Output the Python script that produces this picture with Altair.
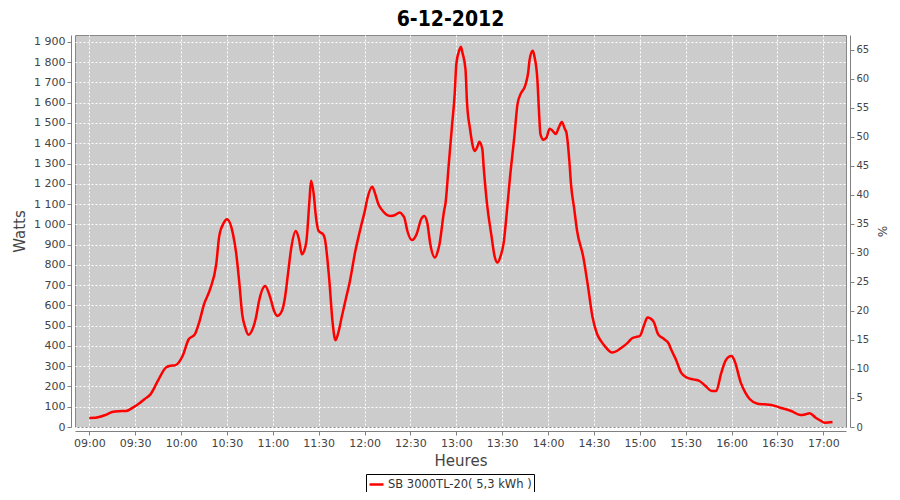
import altair as alt
import pandas as pd

# ---- data (time of day, power in W) ----
times = [
    "09:00", "09:04", "09:10", "09:15", "09:19", "09:24", "09:29", "09:33", "09:36", "09:40",
    "09:45", "09:50", "09:53", "09:56", "10:01", "10:05", "10:09", "10:12", "10:15", "10:19",
    "10:23", "10:25", "10:28", "10:30", "10:34", "10:36", "10:38", "10:40", "10:42", "10:44",
    "10:46", "10:49", "10:51", "10:55", "10:58", "11:01", "11:03", "11:06", "11:08", "11:10",
    "11:12", "11:15", "11:17", "11:19", "11:20", "11:22", "11:24", "11:25", "11:27", "11:28",
    "11:30", "11:33", "11:34", "11:37", "11:39", "11:41", "11:43", "11:45", "11:48", "11:50",
    "11:54", "11:58", "12:00", "12:02", "12:05", "12:07", "12:09", "12:11", "12:14", "12:17",
    "12:20", "12:23", "12:25", "12:26", "12:28", "12:31", "12:34", "12:37", "12:39", "12:41",
    "12:43", "12:46", "12:48", "12:49", "12:52", "12:53", "12:55", "12:57", "12:59", "13:00",
    "13:02", "13:03", "13:04", "13:06", "13:07", "13:09", "13:11", "13:12", "13:14", "13:15",
    "13:17", "13:18", "13:20", "13:23", "13:25", "13:27", "13:29", "13:31", "13:33", "13:35",
    "13:38", "13:40", "13:42", "13:45", "13:47", "13:48", "13:50", "13:51", "13:53", "13:54",
    "13:55", "13:57", "13:59", "14:01", "14:03", "14:05", "14:07", "14:09", "14:11", "14:12",
    "14:14", "14:15", "14:17", "14:19", "14:23", "14:26", "14:29", "14:32", "14:35", "14:37",
    "14:40", "14:42", "14:45", "14:48", "14:52", "14:55", "14:58", "15:00", "15:03", "15:05",
    "15:07", "15:09", "15:12", "15:16", "15:19", "15:20", "15:24", "15:27", "15:31", "15:35",
    "15:39", "15:43", "15:47", "15:50", "15:53", "15:56", "15:58", "16:00", "16:02", "16:06",
    "16:09", "16:12", "16:17", "16:21", "16:26", "16:32", "16:39", "16:45", "16:48", "16:51",
    "16:55", "16:58", "17:01", "17:06",
]
watts = [
    45, 46, 58, 74, 78, 79, 98, 118, 137, 161,
    230, 293, 302, 304, 350, 433, 457, 520, 605, 680,
    803, 943, 1008, 1025, 951, 860, 720, 556, 490, 455,
    470, 540, 622, 696, 647, 570, 548, 573, 640, 760,
    880, 967, 930, 852, 860, 918, 1120, 1215, 1132, 1050,
    967, 950, 930, 720, 523, 428, 470, 540, 640, 704,
    869, 1000, 1060, 1132, 1185, 1149, 1100, 1075, 1050, 1041,
    1046, 1058, 1045, 1033, 967, 922, 951, 1025, 1041, 1008,
    902, 836, 870, 902, 1066, 1107, 1290, 1470, 1650, 1790,
    1860, 1876, 1847, 1765, 1601, 1469, 1379, 1362, 1387, 1407,
    1371, 1272, 1107, 943, 844, 811, 844, 910, 1058, 1223,
    1436, 1592, 1642, 1683, 1749, 1815, 1856, 1831, 1716, 1568,
    1445, 1417, 1428, 1472, 1461, 1445, 1477, 1505, 1470, 1453,
    1305, 1198, 1082, 967, 840, 700, 545, 460, 420, 400,
    375, 367, 375, 391, 415, 438, 445, 449, 507, 540,
    535, 520, 457, 433, 410, 391, 326, 268, 243, 235,
    227, 202, 178, 178, 260, 326, 345, 350, 326, 219,
    170, 137, 115, 112, 109, 95, 79, 59, 62, 68,
    46, 32, 21, 25,
]
series_name = "SB 3000TL-20( 5,3 kWh )"
pct_ticks = [0, 5, 10, 15, 20, 25, 30, 35, 40, 45, 50, 55, 60, 65]
x_tick_labels = ["09:00", "09:30", "10:00", "10:30", "11:00", "11:30", "12:00", "12:30",
                 "13:00", "13:30", "14:00", "14:30", "15:00", "15:30", "16:00", "16:30", "17:00"]

DAY = "2012-12-06"
df = pd.DataFrame({
    "time": [f"{DAY}T{t}:00" for t in times],
    "watts": watts,
    "serie": series_name,
})
df_pct = pd.DataFrame({"pct": pct_ticks})


def dt(hm, sec=0):
    h, m = hm.split(":")
    return alt.DateTime(year=2012, month=12, date=6, hours=int(h), minutes=int(m), seconds=sec)


x_values = [dt(t) for t in x_tick_labels]
x_domain = [dt("08:50", 39), dt("17:14", 50)]

LABEL_FONT = "DejaVu Sans"
AXIS_GREY = "#808080"
TEXT_GREY = "#444444"

x_enc = alt.X(
    "time:T",
    scale=alt.Scale(domain=x_domain),
    axis=alt.Axis(
        title="Heures", values=x_values, format="%H:%M", grid=True,
        offset=4, labelFlush=False, labelOverlap=False, titlePadding=5,
    ),
)

line = alt.Chart(df).mark_line(strokeWidth=2.5, interpolate="monotone").encode(
    x=x_enc,
    y=alt.Y(
        "watts:Q",
        scale=alt.Scale(domain=[0, 1934], nice=False, zero=False),
        axis=alt.Axis(
            title="Watts", values=list(range(0, 2000, 100)), grid=True, offset=4,
            labelExpr="replace(format(datum.value, ','), ',', ' ')",
            titlePadding=6,
        ),
    ),
    color=alt.Color(
        "serie:N",
        scale=alt.Scale(range=["#ff0000"]),
        legend=alt.Legend(
            title=None, orient="none", legendX=291, legendY=439,
            symbolType="stroke", symbolSize=196, symbolStrokeWidth=2.5,
            labelFontSize=11.5, labelFont=LABEL_FONT, labelColor="#333333",
            labelLimit=400,
            strokeColor="#000000", fillColor="#ffffff", padding=2,
            labelOffset=3, cornerRadius=0,
        ),
    ),
)

pct_layer = alt.Chart(df_pct).mark_point(opacity=0).encode(
    y=alt.Y(
        "pct:Q",
        scale=alt.Scale(domain=[0, 67.55], nice=False, zero=False),
        axis=alt.Axis(
            title="%", orient="right", values=pct_ticks, grid=False, offset=4,
            labelFontSize=10, titleFontSize=12, titlePadding=6,
        ),
    ),
)

chart = (
    alt.layer(line, pct_layer)
    .resolve_scale(y="independent")
    .properties(
        width=771,
        height=392,
        autosize=alt.AutoSizeParams(type="none"),
        padding={"left": 67, "top": 27, "right": 46, "bottom": 65},
        title=alt.TitleParams(
            "6-12-2012", fontSize=21, font="DejaVu Sans Condensed, DejaVu Sans",
            fontWeight="bold", color="#000000", anchor="middle", dx=-10, offset=5,
        ),
    )
    .configure(background="#ffffff")
    .configure_view(fill="#cccccc", stroke="#888888", strokeWidth=1)
    .configure_axis(
        domainColor=AXIS_GREY, tickColor=AXIS_GREY, tickSize=4,
        labelColor=TEXT_GREY, labelFont=LABEL_FONT, labelFontSize=11, labelPadding=2,
        titleColor=TEXT_GREY, titleFont=LABEL_FONT, titleFontSize=15, titleFontWeight="normal",
        gridColor="#ffffff", gridDash=[2, 2], gridWidth=1, gridOpacity=1,
    )
)

chart.save("out.html", embed_options={"renderer": "svg", "actions": False})
